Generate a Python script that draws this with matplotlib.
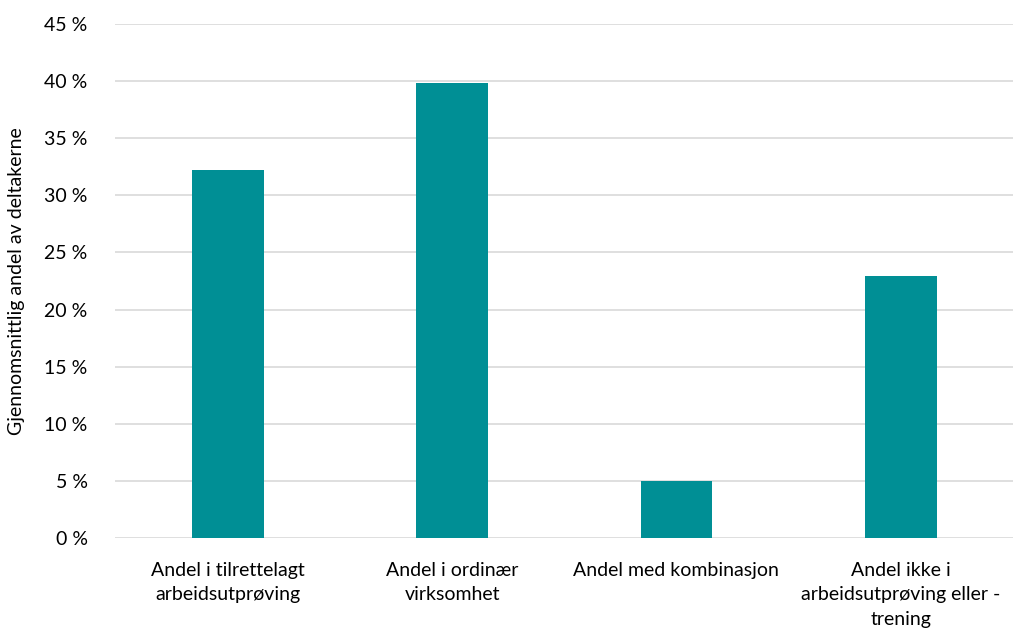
import matplotlib
matplotlib.use('Agg')
import matplotlib.pyplot as plt
from matplotlib.ticker import FuncFormatter

# Data
categories = [
    "Andel i tilrettelagt\narbeidsutprøving",
    "Andel i ordinær\nvirksomhet",
    "Andel med kombinasjon",
    "Andel ikke i\narbeidsutprøving eller -\ntrening",
]
values = [32.2, 39.8, 5.0, 22.9]
y_ticks = [0, 5, 10, 15, 20, 25, 30, 35, 40, 45]

plt.rcParams['font.family'] = ['Lato', 'DejaVu Sans']

fig = plt.figure(figsize=(10.13, 6.3), dpi=100)
ax = fig.add_axes([0.114, 0.146, 0.886, 0.816])

x = range(len(categories))
ax.bar(x, values, width=0.32, color='#008F95', zorder=3)

ax.set_xlim(-0.5, len(categories) - 0.5)
ax.set_ylim(0, 45)
ax.set_yticks(y_ticks)
ax.yaxis.set_major_formatter(FuncFormatter(lambda v, p: f"{v:.0f} %"))
ax.set_xticks(list(x))
ax.set_xticklabels(categories, fontsize=14, linespacing=1.55, va='top')
ax.tick_params(axis='y', labelsize=14, length=0, pad=20)
ax.tick_params(axis='x', length=0, pad=17)
ax.grid(axis='y', color='#d9d9d9', linewidth=1.2, zorder=0)
for s in ax.spines.values():
    s.set_visible(False)

ax.set_ylabel("Gjennomsnittlig andel av deltakerne", fontsize=14, labelpad=14)

fig.savefig("out.png", dpi=100)
